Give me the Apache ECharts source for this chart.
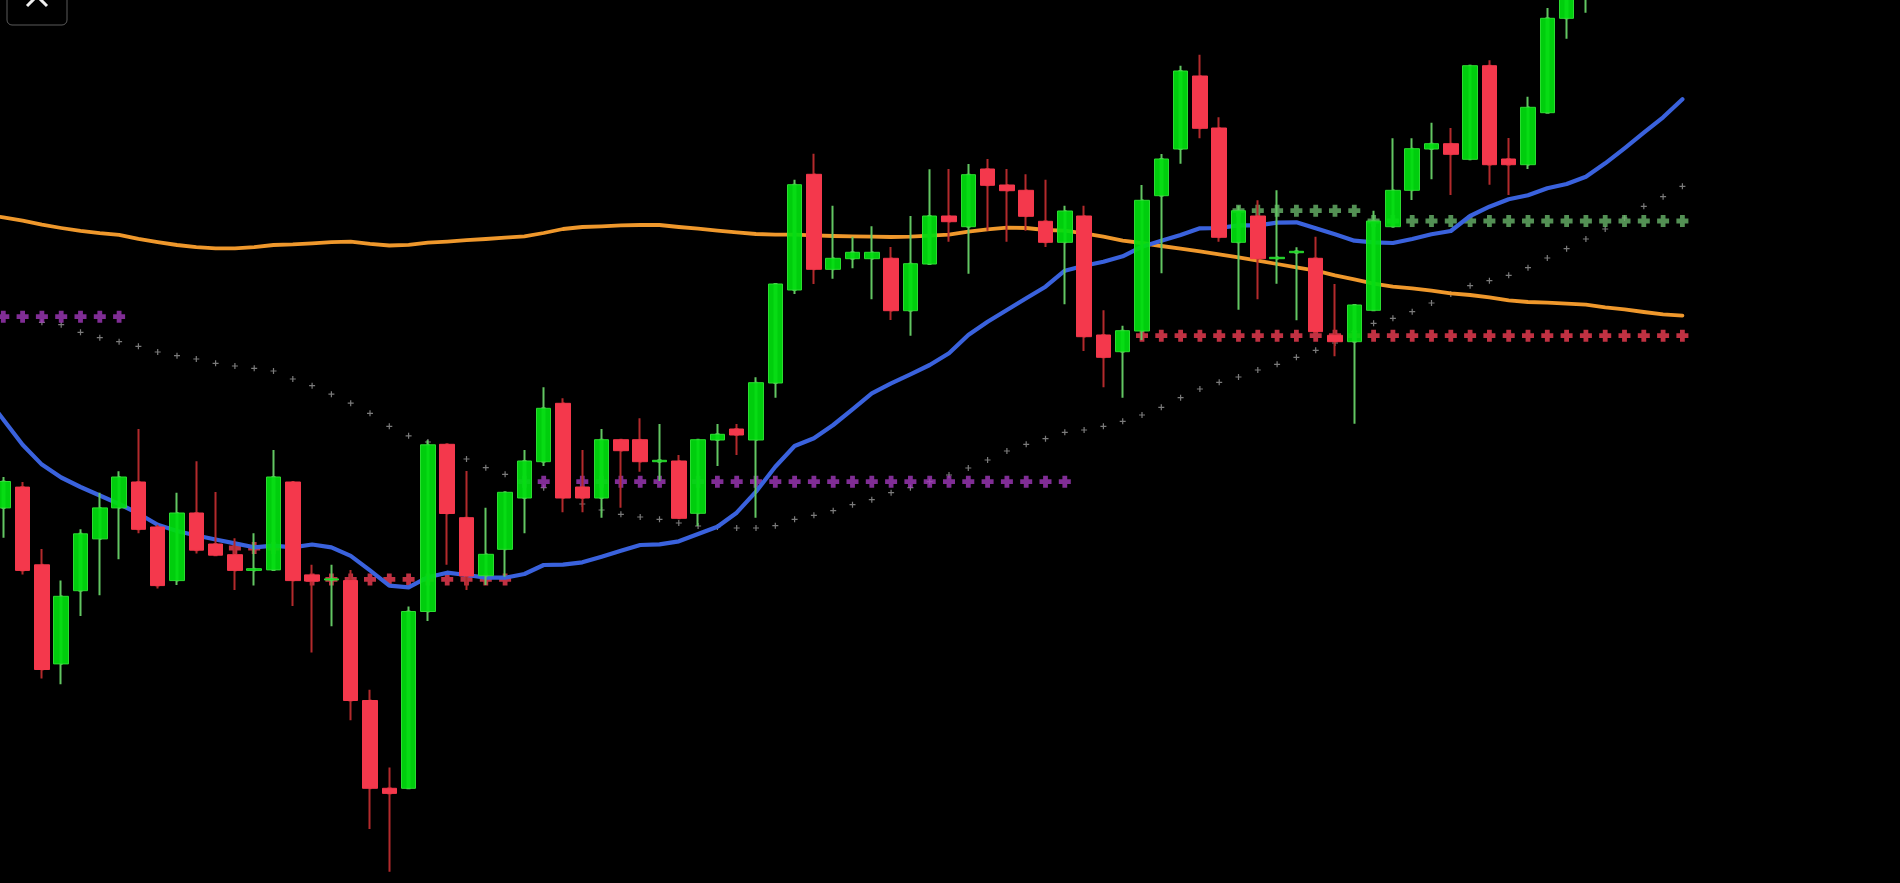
<!DOCTYPE html>
<html>
<head>
<meta charset="utf-8">
<title>candles</title>
<style>
  html, body { margin: 0; padding: 0; background: #000; }
  #chart { width: 1900px; height: 883px; }
</style>
<script src="https://cdn.jsdelivr.net/npm/echarts@6/dist/echarts.min.js"></script>
</head>
<body>
<div id="chart"></div>
<script>
// first bar is the one just off the left edge, the last ones run off the top
var opens = [380, 375.1, 395.9, 318.2, 219.1, 292.3, 344.1, 375.1, 401, 356, 302.4, 370, 339, 328.3, 312.6, 313.1, 401, 308.1, 303, 302.4, 182.5, 94.7, 94.7, 271.5, 438.7, 365.3, 307.3, 333.7, 385, 421.3, 479.7, 396, 385, 443.3, 443.3, 421.3, 422, 369.7, 443, 454, 443, 500, 593, 708.7, 613.7, 624.3, 624.3, 624.7, 572.3, 619, 667, 656.3, 714, 698, 692.7, 661.7, 640.7, 667, 548, 531.3, 552, 687.3, 734, 807, 755, 640.7, 667, 624.3, 630.3, 624.7, 547.7, 541.3, 572.7, 656.3, 692.7, 734, 739.3, 723.7, 817.3, 724, 718.3, 770.3, 864.7, 885];
var closes = [400, 401.5, 312.6, 213.5, 286.7, 349.2, 375.1, 406, 353.7, 297.4, 370, 332.8, 327.8, 312.6, 314.3, 406, 302.4, 301.9, 304.1, 182.5, 94.7, 89.6, 271.5, 438.2, 369.5, 307, 328.7, 390.7, 422, 474.7, 385, 385, 443.3, 432.3, 421.3, 422.7, 364.7, 443.3, 448.7, 448, 500.3, 599, 698.3, 613.7, 624.7, 630.7, 630.7, 572.3, 619.3, 667, 661.3, 708.3, 697.7, 692.3, 666.7, 640.7, 672, 546.3, 525.7, 552.3, 682.7, 724, 812, 754.7, 645.7, 672.3, 624.3, 625.7, 631.7, 551.3, 541.3, 578, 662, 692.7, 734.3, 739.3, 728.7, 817.3, 718.3, 718.3, 775.7, 864.7, 913, 943];
var lows = [360, 345.2, 308.6, 204.5, 198.8, 267, 287.8, 323.8, 349.7, 294.6, 298, 329.5, 327.8, 292.9, 297.4, 313.1, 277.1, 230.4, 256.8, 162.8, 54.1, 11.3, 94.7, 261.9, 318.2, 293, 298, 306.3, 349.7, 417, 370.7, 370.7, 365.3, 375.3, 411.3, 402, 364.7, 357, 417, 428, 365.3, 485.3, 589, 599, 604.3, 614.7, 583.7, 563, 547.3, 619, 641.3, 609.3, 652.3, 641.3, 652.3, 636, 578.7, 532, 495.7, 485.3, 543, 609.7, 719.3, 744.7, 641.3, 573.3, 583.7, 599.3, 562.7, 551.3, 526.7, 459.3, 572.7, 656.3, 683, 703.7, 688, 723.7, 698.3, 688, 714, 770.3, 844.3, 870.3];
var highs = [420, 406, 401, 334, 302.4, 353.7, 390.3, 411.7, 453.9, 358.2, 390.3, 421.8, 390.9, 344.7, 349.7, 433.1, 401, 318.2, 318.2, 313.1, 193.2, 115.5, 276.5, 442.7, 438.7, 412, 375.3, 390.7, 433, 495.7, 484.7, 433, 454, 443.3, 464.7, 459, 428, 443.3, 459, 459, 505.7, 599, 703.3, 729.3, 677.3, 646.3, 656.7, 636, 667, 713.7, 714, 719, 724, 714, 708.7, 703.3, 677.3, 677.3, 572.7, 557.3, 698, 729, 817.3, 828.3, 765.7, 677.3, 682.7, 692.7, 635.7, 646.3, 599, 578, 672.3, 744.7, 744.7, 760.3, 755, 817.3, 822.7, 745, 786.3, 875, 923, 953];

var fastMa = [489, 463.5, 438.2, 418.4, 405.5, 396, 387.5, 379, 369.5, 358.2, 352, 347.5, 343.5, 339.6, 335.7, 337.4, 335.7, 338.5, 335.7, 327.2, 312.6, 297.4, 295.7, 305.8, 310.3, 308, 305.3, 305.3, 309, 318, 318.3, 320.7, 326.3, 332.3, 338, 338.7, 341.7, 349, 356.3, 370.3, 391.3, 416.3, 437, 444.7, 458, 473.7, 489.7, 499.7, 508.7, 518, 529.7, 548, 561.3, 573, 584.7, 596.3, 612.3, 617.3, 621.3, 626.7, 636.3, 642.3, 648, 654.7, 655, 657.7, 657.7, 660.3, 660.7, 654.7, 648.7, 642.3, 640.7, 640, 644, 648.7, 652, 667, 676.3, 683.7, 687.7, 694.7, 699, 706.3, 719.7, 734.7, 750.3, 765.7, 783.7];
var slowMa = [668.5, 665.6, 662.3, 658.3, 655, 652.1, 649.9, 648.2, 644.2, 640.9, 638, 635.8, 634.7, 634.7, 635.8, 638, 638.6, 639.7, 640.9, 641.4, 639.2, 637.5, 638.1, 640.3, 641.4, 642.8, 644, 645.3, 646.7, 650, 654, 656, 656.7, 657.7, 658, 658, 656, 654.3, 652.3, 650.7, 649, 648.3, 648.3, 647.7, 647, 646.7, 646.3, 646, 646.3, 647.3, 648.3, 651.3, 653.7, 655.3, 655, 653, 652.3, 649.7, 646.3, 642.3, 640, 637, 634.3, 631.7, 628.7, 625.7, 622.3, 619, 615.7, 612.3, 607.7, 603.7, 599.3, 596.3, 594.7, 592.3, 589.7, 588, 585.7, 582.7, 581, 580.3, 579.3, 578.3, 575.7, 573.7, 571, 568.7, 567.3];

var greyDots = [null, null, null, 560.7, 558.3, 550.7, 545.3, 541.3, 536.7, 531, 527.3, 524, 519.7, 517, 514.7, 512, 504, 497.3, 488.8, 479.8, 469.7, 456.7, 447.2, 441, 433, 424, 415.3, 408.7, 401.3, 395.3, 387, 379, 373, 368.7, 366, 363.7, 360, 357, 356, 355, 355, 357.3, 363.7, 367.7, 372.3, 378.3, 383.3, 390.3, 395.3, 401.3, 408, 415, 423, 432, 438.7, 444.3, 450.7, 453, 456.7, 461.7, 468, 475.7, 485.3, 494, 500.7, 506, 513, 518.7, 525.7, 532.7, 540, 551.3, 559.7, 564.7, 571.3, 580, 589, 597.3, 602.3, 607.7, 615.3, 625, 634.3, 644, 654, 665, 676.7, 686.3, 696.7];
var purpleDots = [null, 566.3, 566.3, 566.3, 566.3, 566.3, 566.3, 566.3, null, null, null, null, null, null, null, null, null, null, null, null, null, null, null, null, null, null, null, null, 401.3, 401.3, 401.3, 401.3, 401.3, 401.3, 401.3, 401.3, 401.3, 401.3, 401.3, 401.3, 401.3, 401.3, 401.3, 401.3, 401.3, 401.3, 401.3, 401.3, 401.3, 401.3, 401.3, 401.3, 401.3, 401.3, 401.3, 401.3, 401.3];
var redDots = [null, null, null, null, null, null, null, null, null, null, null, null, null, 335, 335, 335, 335, 303.6, 303.6, 303.6, 303.6, 303.6, 303.6, 303.6, 303.6, 303.6, 303.6, 303.6, null, null, null, null, null, null, null, null, null, null, null, null, null, null, null, null, null, null, null, null, null, null, null, null, null, null, null, null, null, null, null, null, 547.3, 547.3, 547.3, 547.3, 547.3, 547.3, 547.3, 547.3, 547.3, 547.3, 547.3, 547.3, 547.3, 547.3, 547.3, 547.3, 547.3, 547.3, 547.3, 547.3, 547.3, 547.3, 547.3, 547.3, 547.3, 547.3, 547.3, 547.3, 547.3];
var greenDots = [null, null, null, null, null, null, null, null, null, null, null, null, null, null, null, null, null, null, null, null, null, null, null, null, null, null, null, null, null, null, null, null, null, null, null, null, null, null, null, null, null, null, null, null, null, null, null, null, null, null, null, null, null, null, null, null, null, null, null, null, null, null, null, null, null, 672.3, 672.3, 672.3, 672.3, 672.3, 672.3, 672.3, 662, 662, 662, 662, 662, 662, 662, 662, 662, 662, 662, 662, 662, 662, 662, 662, 662];

// room for empty bars on the right, same as the terminal leaves
var categories = [];
for (var i = 0; i < 100; i++) categories.push(String(i));

var wickData = [];
var bodyData = [];
for (var k = 0; k < opens.length; k++) {
  wickData.push([opens[k], closes[k], lows[k], highs[k]]);
  // body only, so the wick can keep its own colour
  bodyData.push([opens[k], closes[k], Math.min(opens[k], closes[k]), Math.max(opens[k], closes[k])]);
}

var bigCross = 'path://M3 0h4v3h3v4H7v3H3V7H0V3h3z';
var thinCross = 'path://M4 0h2v4h4v2H6v4H4V6H0V4h4z';

function dots(name, data, symbol, size, color) {
  return {
    name: name,
    type: 'scatter',
    data: data,
    symbol: symbol,
    symbolSize: size,
    itemStyle: { color: color },
    z: 2,
    silent: true
  };
}

function maLine(name, data, color, width) {
  return {
    name: name,
    type: 'line',
    data: data,
    symbol: 'none',
    lineStyle: { color: color, width: width, cap: 'round', join: 'round' },
    z: 3,
    silent: true
  };
}

var chart = echarts.init(document.getElementById('chart'));
chart.setOption({
  animation: false,
  backgroundColor: '#000',
  // outerBoundsMode none: v6 otherwise pulls the grid back inside the canvas
  grid: { left: -25.65, top: 0, width: 1930, height: 883, outerBoundsMode: 'none' },
  xAxis: { type: 'category', data: categories, show: false },
  yAxis: { type: 'value', min: 0, max: 883, show: false, splitLine: { show: false } },
  series: [
    dots('grey', greyDots, thinCross, 6, '#9a9a9a'),
    dots('purple', purpleDots, bigCross, 12, '#a038ba'),
    dots('red', redDots, bigCross, 12, '#f03d52'),
    dots('green', greenDots, bigCross, 12, '#68b469'),
    maLine('slow', slowMa, '#ef982c', 3.8),
    maLine('fast', fastMa, '#3a62dd', 4.2),
    {
      name: 'wicks',
      type: 'candlestick',
      data: wickData,
      barWidth: 2,
      itemStyle: { color: '#62c662', color0: '#b32a2c', borderColor: '#62c662', borderColor0: '#b32a2c', borderWidth: 2 },
      z: 4,
      silent: true
    },
    {
      name: 'bodies',
      type: 'candlestick',
      data: bodyData,
      barWidth: 15,
      itemStyle: { color: 'rgba(0,222,14,0.93)', color0: '#f4384c', borderColor: '#2cdc32', borderColor0: '#f4384c', borderWidth: 1 },
      z: 5,
      silent: true
    }
  ],
  // close button of the app, sits half off the top of the screenshot
  graphic: [
    { type: 'rect', shape: { x: 7, y: -20, width: 60, height: 45, r: 5 }, style: { fill: 'none', stroke: '#5a5a5a', lineWidth: 1 }, z: 10 },
    { type: 'line', shape: { x1: 27, y1: 6, x2: 47, y2: -14 }, style: { stroke: '#f0f0f0', lineWidth: 3 }, z: 10 },
    { type: 'line', shape: { x1: 47, y1: 6, x2: 27, y2: -14 }, style: { stroke: '#f0f0f0', lineWidth: 3 }, z: 10 }
  ]
});
</script>
</body>
</html>
